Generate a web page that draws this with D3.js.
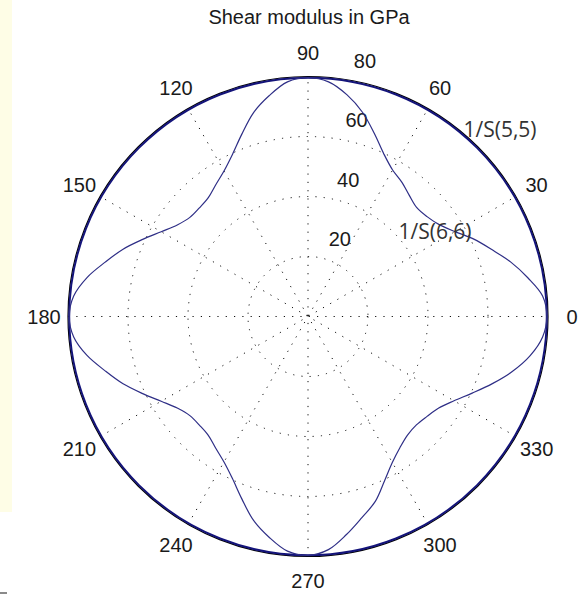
<!DOCTYPE html>
<html>
<head>
<meta charset="utf-8">
<script src="https://cdn.jsdelivr.net/npm/d3@7"></script>
<style>
  body { margin: 0; background: #fff; }
  svg { display: block; }
</style>
</head>
<body>
<div id="container"></div>
<script>
// values
var title = "Shear modulus in GPa";
var angleTicks = [0, 30, 60, 90, 120, 150, 180, 210, 240, 270, 300, 330];
var radialTicks = [20, 40, 60, 80];
var rMax = 80;

var theta = [
  0, 5, 10, 15, 20, 25, 30, 35, 40, 45, 50, 55, 60, 65, 70, 75, 80, 85,
  90, 95, 100, 105, 110, 115, 120, 125, 130, 135, 140, 145, 150, 155, 160, 165, 170, 175,
  180, 185, 190, 195, 200, 205, 210, 215, 220, 225, 230, 235, 240, 245, 250, 255, 260, 265,
  270, 275, 280, 285, 290, 295, 300, 305, 310, 315, 320, 325, 330, 335, 340, 345, 350, 355
];
// 1/S(6,6)
var shear66 = [
  79.6, 78.5, 74.4, 70.0, 65.2, 61.0, 56.6, 53.4, 51.8, 51.3, 52.6, 54.6, 56.4, 59.8, 64.8, 70.4, 75.0, 78.5,
  79.6, 78.5, 74.7, 70.3, 64.6, 59.6, 56.0, 53.6, 51.7, 51.2, 51.4, 53.2, 56.5, 60.8, 65.6, 70.0, 74.8, 78.4,
  79.6, 78.4, 74.8, 70.0, 65.6, 60.8, 56.5, 53.2, 51.4, 51.2, 51.7, 53.6, 56.0, 59.6, 64.6, 70.3, 74.7, 78.5,
  79.6, 78.0, 73.8, 69.4, 65.6, 60.4, 56.2, 53.4, 51.6, 51.1, 51.8, 53.2, 56.2, 60.4, 65.4, 70.6, 75.2, 78.5
];
// 1/S(5,5) is constant
var shear55 = 79.6;
var seriesLabels = ["1/S(5,5)", "1/S(6,6)"];

var width = 579, height = 594;
var cx = 308, cy = 316.5, R = 240;

var svg = d3.select("#container").append("svg")
    .attr("width", width)
    .attr("height", height);

// pale strip on the left edge of the screenshot
svg.append("rect")
    .attr("x", 0).attr("y", 0)
    .attr("width", 12).attr("height", 512)
    .attr("fill", "#fefde6");
svg.append("rect")
    .attr("x", 0).attr("y", 592)
    .attr("width", 7).attr("height", 2)
    .attr("fill", "#8a8a8a");

var r = d3.scaleLinear().domain([0, rMax]).range([0, R]);
function rad(deg) { return deg * Math.PI / 180; }

var g = svg.append("g")
    .attr("transform", "translate(" + cx + "," + cy + ")");

var dots = "1.2,7.1";

// rings
g.selectAll("circle.ring")
  .data(radialTicks.filter(function(d) { return d < rMax; }))
  .enter().append("circle")
    .attr("class", "ring")
    .attr("r", function(d) { return r(d); })
    .attr("fill", "none")
    .attr("stroke", "#111")
    .attr("stroke-width", 1)
    .attr("stroke-dasharray", dots);

// spokes
g.selectAll("line.spoke")
  .data(angleTicks.slice(0, 6))
  .enter().append("line")
    .attr("class", "spoke")
    .attr("x1", function(d) { return -r(rMax) * Math.cos(rad(d)); })
    .attr("y1", function(d) { return r(rMax) * Math.sin(rad(d)); })
    .attr("x2", function(d) { return r(rMax) * Math.cos(rad(d)); })
    .attr("y2", function(d) { return -r(rMax) * Math.sin(rad(d)); })
    .attr("stroke", "#111")
    .attr("stroke-width", 1)
    .attr("stroke-dasharray", dots);

// outer frame circle
g.append("circle")
    .attr("r", r(rMax))
    .attr("fill", "none")
    .attr("stroke", "#000")
    .attr("stroke-width", 1.2);

// radial tick labels along 82 degrees
var c82 = Math.cos(rad(82)), s82 = Math.sin(rad(82));
g.selectAll("text.rlabel")
  .data(radialTicks)
  .enter().append("text")
    .attr("class", "rlabel")
    .attr("x", function(d) { return r(d) * c82 + 23.5; })
    .attr("y", function(d) { return -r(d) * s82 - 18; })
    .attr("text-anchor", "middle")
    .attr("dominant-baseline", "central")
    .style("font-family", "Liberation Sans, Arial, sans-serif")
    .style("font-size", "20px")
    .attr("fill", "#1a1a1a")
    .text(function(d) { return d; });

// angle labels
g.selectAll("text.alabel")
  .data(angleTicks)
  .enter().append("text")
    .attr("class", "alabel")
    .attr("x", function(d) { return 1.1 * r(rMax) * Math.cos(rad(d)); })
    .attr("y", function(d) { return -1.1 * r(rMax) * Math.sin(rad(d)); })
    .attr("text-anchor", "middle")
    .attr("dominant-baseline", "central")
    .style("font-family", "Liberation Sans, Arial, sans-serif")
    .style("font-size", "20px")
    .attr("fill", "#1a1a1a")
    .text(function(d) { return d; });

// series
var pts66 = theta.map(function(t, i) { return [t, shear66[i]]; });
var line = d3.lineRadial()
    .angle(function(d) { return Math.PI / 2 - rad(d[0]); })
    .radius(function(d) { return r(d[1]); })
    .curve(d3.curveCatmullRomClosed);

g.append("circle")
    .attr("r", r(shear55))
    .attr("fill", "none")
    .attr("stroke", "#14147a")
    .attr("stroke-width", 2);

g.append("path")
    .datum(pts66)
    .attr("d", line)
    .attr("fill", "none")
    .attr("stroke", "#2e2e86")
    .attr("stroke-width", 1.2);

// series labels
svg.append("text")
    .attr("x", 500).attr("y", 129)
    .attr("text-anchor", "middle")
    .attr("dominant-baseline", "central")
    .style("font-family", "Open Sans, sans-serif")
    .style("font-size", "21px")
    .attr("fill", "#333")
    .text(seriesLabels[0]);
svg.append("text")
    .attr("x", 435).attr("y", 231)
    .attr("text-anchor", "middle")
    .attr("dominant-baseline", "central")
    .style("font-family", "Open Sans, sans-serif")
    .style("font-size", "21px")
    .attr("fill", "#333")
    .text(seriesLabels[1]);

svg.append("text")
    .attr("x", 309).attr("y", 17)
    .attr("text-anchor", "middle")
    .attr("dominant-baseline", "central")
    .style("font-family", "Liberation Sans, Arial, sans-serif")
    .style("font-size", "20px")
    .attr("fill", "#1a1a1a")
    .text(title);
</script>
</body>
</html>
